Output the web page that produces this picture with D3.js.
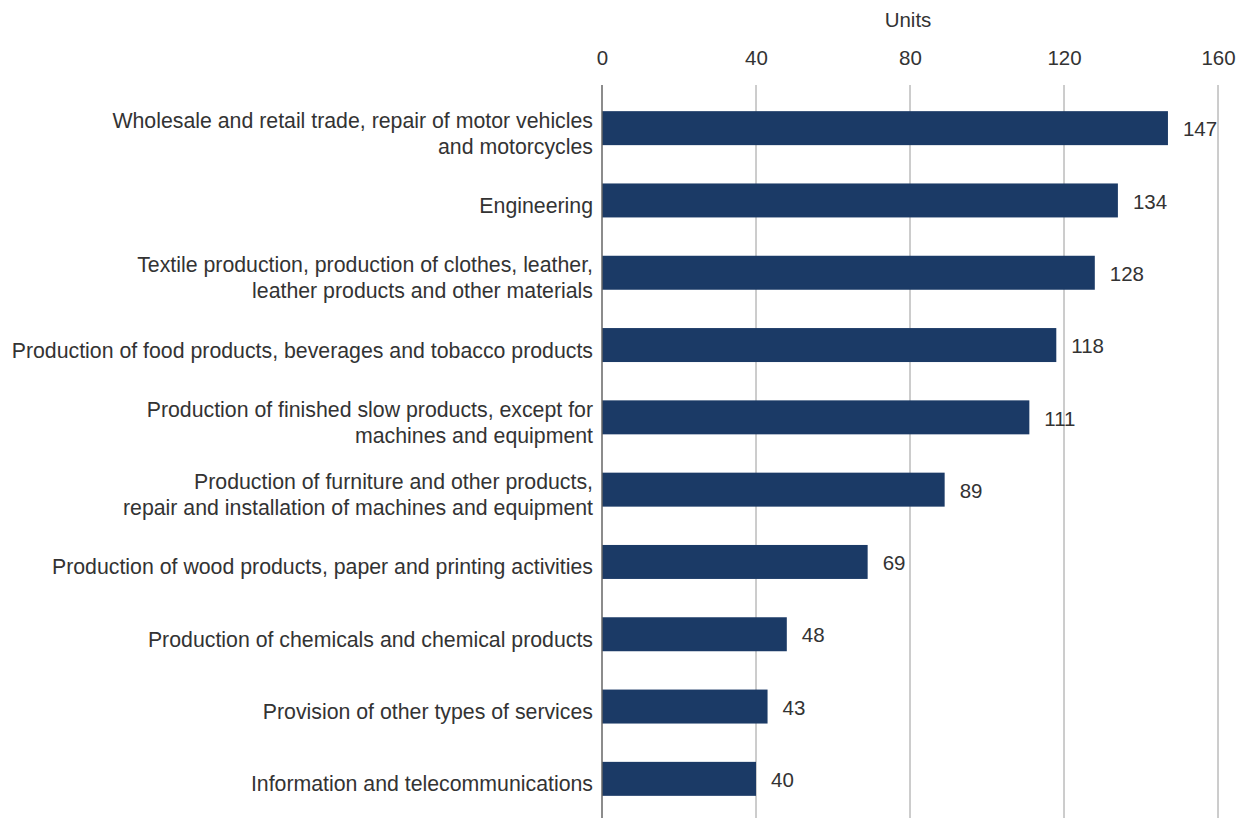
<!DOCTYPE html>
<html>
<head>
<meta charset="utf-8">
<script src="https://cdn.jsdelivr.net/npm/d3@7"></script>
<style>
  body { margin: 0; background: #fff; }
  svg { display: block; font-family: "Liberation Sans", Arial, sans-serif; }
</style>
</head>
<body>
<svg id="chart" width="1251" height="818"></svg>
<script>
// categories, one line per array entry
const categories = [
  ["Wholesale and retail trade, repair of motor vehicles", "and motorcycles"],
  ["Engineering"],
  ["Textile production, production of clothes, leather,", "leather products and other materials"],
  ["Production of food products, beverages and tobacco products"],
  ["Production of finished slow products, except for", "machines and equipment"],
  ["Production of furniture and other products,", "repair and installation of machines and equipment"],
  ["Production of wood products, paper and printing activities"],
  ["Production of chemicals and chemical products"],
  ["Provision of other types of services"],
  ["Information and telecommunications"]
];
const values = [147, 134, 128, 118, 111, 89, 69, 48, 43, 40];
const tickValues = [0, 40, 80, 120, 160];
const axisTitle = "Units";

const svg = d3.select("#chart");
const width = 1251, height = 818;
const textColor = "#333333";
const barColor = "#1b3a66";

const x = d3.scaleLinear().domain([0, 160]).range([602, 1218]);
const y = d3.scaleBand()
  .domain(d3.range(categories.length))
  .range([92, 815])
  .paddingInner(0.53)
  .paddingOuter(0.265);

// gridlines
svg.append("g")
  .selectAll("line")
  .data(tickValues.filter(d => d > 0))
  .enter()
  .append("line")
  .attr("x1", d => x(d)).attr("x2", d => x(d))
  .attr("y1", 85).attr("y2", height)
  .style("stroke", "#9a9a9a")
  .style("stroke-width", 1);

// top axis labels
const axis = d3.axisTop(x).tickValues(tickValues).tickSize(0).tickPadding(0);
const gAxis = svg.append("g").attr("transform", "translate(0,65)").call(axis);
gAxis.select(".domain").remove();
gAxis.selectAll("text")
  .style("font-size", "20.5px")
  .style("fill", textColor)
  .style("font-family", "Liberation Sans, Arial, sans-serif");

svg.append("text")
  .attr("x", 908)
  .attr("y", 27)
  .attr("text-anchor", "middle")
  .style("font-size", "20.5px")
  .style("fill", textColor)
  .text(axisTitle);

// bars
svg.append("g")
  .selectAll("rect")
  .data(values)
  .enter()
  .append("rect")
  .attr("x", x(0))
  .attr("y", (d, i) => y(i))
  .attr("width", d => x(d) - x(0))
  .attr("height", y.bandwidth())
  .style("fill", barColor);

// value labels
svg.append("g")
  .selectAll("text")
  .data(values)
  .enter()
  .append("text")
  .attr("x", d => x(d) + 15)
  .attr("y", (d, i) => y(i) + y.bandwidth() / 2 + 1)
  .attr("dy", "0.35em")
  .style("font-size", "20.5px")
  .style("fill", textColor)
  .text(d => d);

// category labels
const lineH = 26;
const labels = svg.append("g")
  .selectAll("text")
  .data(categories)
  .enter()
  .append("text")
  .attr("text-anchor", "end")
  .style("font-size", "21.3px")
  .style("fill", textColor)
  .attr("transform", (d, i) => `translate(593,${y(i) + y.bandwidth() / 2 + 5})`);
labels.selectAll("tspan")
  .data(d => d.map((t, k) => ({ t, k, n: d.length })))
  .enter()
  .append("tspan")
  .attr("x", 0)
  .attr("y", l => (l.k - (l.n - 1) / 2) * lineH)
  .attr("dy", "0.35em")
  .text(l => l.t);

// axis line
svg.append("line")
  .attr("x1", x(0)).attr("x2", x(0))
  .attr("y1", 85).attr("y2", height)
  .style("stroke", "#666")
  .style("stroke-width", 1.5);
</script>
</body>
</html>
